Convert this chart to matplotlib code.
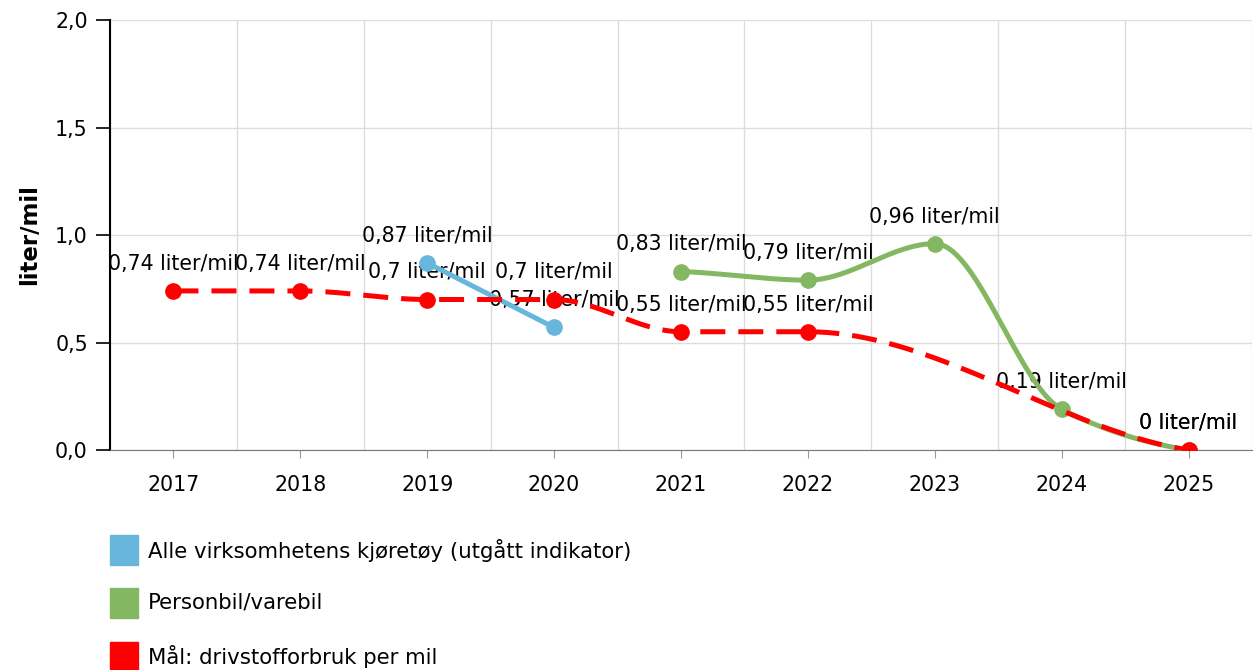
import numpy as np
import matplotlib
matplotlib.use("Agg")
import matplotlib.pyplot as plt
from matplotlib.patches import Rectangle

# data
years = ["2017", "2018", "2019", "2020", "2021", "2022", "2023", "2024", "2025"]
alle = [None, None, 0.87, 0.57, None, None, None, None, None]
personbil = [None, None, None, None, 0.83, 0.79, 0.96, 0.19, 0.0]
maal = [0.74, 0.74, 0.70, 0.70, 0.55, 0.55, None, None, 0.0]

labels_legend = ["Alle virksomhetens kjøretøy (utgått indikator)",
                 "Personbil/varebil",
                 "Mål: drivstofforbruk per mil"]
colors = ["#67b7dc", "#84b761", "#ff0000"]

plt.rcParams['font.family'] = ['DejaVu Sans']
FS = 14.8


def smooth(xs, ys, n=40):
    # monotone cubic (Fritsch-Carlson) through the points
    xs = np.asarray(xs, float)
    ys = np.asarray(ys, float)
    if len(xs) < 3:
        return xs, ys
    h = np.diff(xs)
    d = np.diff(ys) / h
    m = np.zeros(len(xs))
    for i in range(1, len(xs) - 1):
        if d[i - 1] * d[i] <= 0:
            m[i] = 0
        else:
            w1 = 2 * h[i] + h[i - 1]
            w2 = h[i] + 2 * h[i - 1]
            m[i] = (w1 + w2) / (w1 / d[i - 1] + w2 / d[i])
    m[0] = d[0] * 0.5
    m[-1] = d[-1] * 0.5
    px, py = [], []
    for i in range(len(xs) - 1):
        t = np.linspace(0, 1, n)
        h00 = 2 * t**3 - 3 * t**2 + 1
        h10 = t**3 - 2 * t**2 + t
        h01 = -2 * t**3 + 3 * t**2
        h11 = t**3 - t**2
        px.extend(xs[i] + t * h[i])
        py.extend(h00 * ys[i] + h10 * h[i] * m[i] + h01 * ys[i + 1] + h11 * h[i] * m[i + 1])
    return np.array(px), np.array(py)


fig = plt.figure(figsize=(12.56, 6.70), dpi=100)
ax = fig.add_axes([110 / 1256, 1 - 450 / 670, 1142 / 1256, 430 / 670])

x_all = np.arange(len(years))
series = [alle, personbil, maal]
styles = ['-', '-', '--']

for vals, col, ls, z in zip(series, colors, styles, [3, 4, 5]):
    xs = [x for x, v in zip(x_all, vals) if v is not None]
    ys = [v for v in vals if v is not None]
    sx, sy = smooth(xs, ys)
    line, = ax.plot(sx, sy, color=col, lw=3.6, ls=ls, zorder=z, solid_capstyle='round')
    if ls == '--':
        line.set_dashes([5, 2.6])
    ax.plot(xs, ys, 'o', color=col, ms=11, zorder=z)
    for x, y in zip(xs, ys):
        txt = ("%g" % y).replace('.', ',') + " liter/mil"
        ax.annotate(txt, (x, y), xytext=(0, 19.5), textcoords='offset points',
                    ha='center', va='center', fontsize=FS, color='black', zorder=2)

ax.set_xlim(-0.5, len(years) - 0.5)
ax.set_ylim(0, 2.0)
ax.set_xticks(x_all)
ax.set_xticklabels(years)
ax.set_yticks([0, 0.5, 1.0, 1.5, 2.0])
ax.set_yticklabels(["0,0", "0,5", "1,0", "1,5", "2,0"])
ax.set_xticks(np.arange(-0.5, len(years)), minor=True)
ax.grid(True, which='minor', axis='x', color='#dddddd', lw=1)
ax.grid(True, which='major', axis='y', color='#dddddd', lw=1)
ax.tick_params(axis='x', which='minor', length=0)
ax.tick_params(axis='x', which='major', length=6, color='#999999', labelsize=FS, pad=12)
ax.tick_params(axis='y', length=10, width=1.2, labelsize=FS, pad=6)
for s in ['top', 'right']:
    ax.spines[s].set_visible(False)
ax.spines['left'].set_linewidth(1.5)
ax.spines['bottom'].set_color('#777777')
ax.set_axisbelow(True)

fig.text(30 / 1256, 1 - 235 / 670, "liter/mil", rotation=90, fontsize=16.5, fontweight='bold',
         ha='center', va='center')

# legend drawn by hand below the plot
rows_y = [550, 603, 657]
for lab, col, yy in zip(labels_legend, colors, rows_y):
    fig.patches.append(Rectangle((110 / 1256, 1 - (yy + 15) / 670), 28 / 1256, 30 / 670,
                                 transform=fig.transFigure, color=col))
    fig.text(148 / 1256, 1 - yy / 670, lab, fontsize=15.3, va='center', ha='left')

fig.savefig("out.png", dpi=100)
